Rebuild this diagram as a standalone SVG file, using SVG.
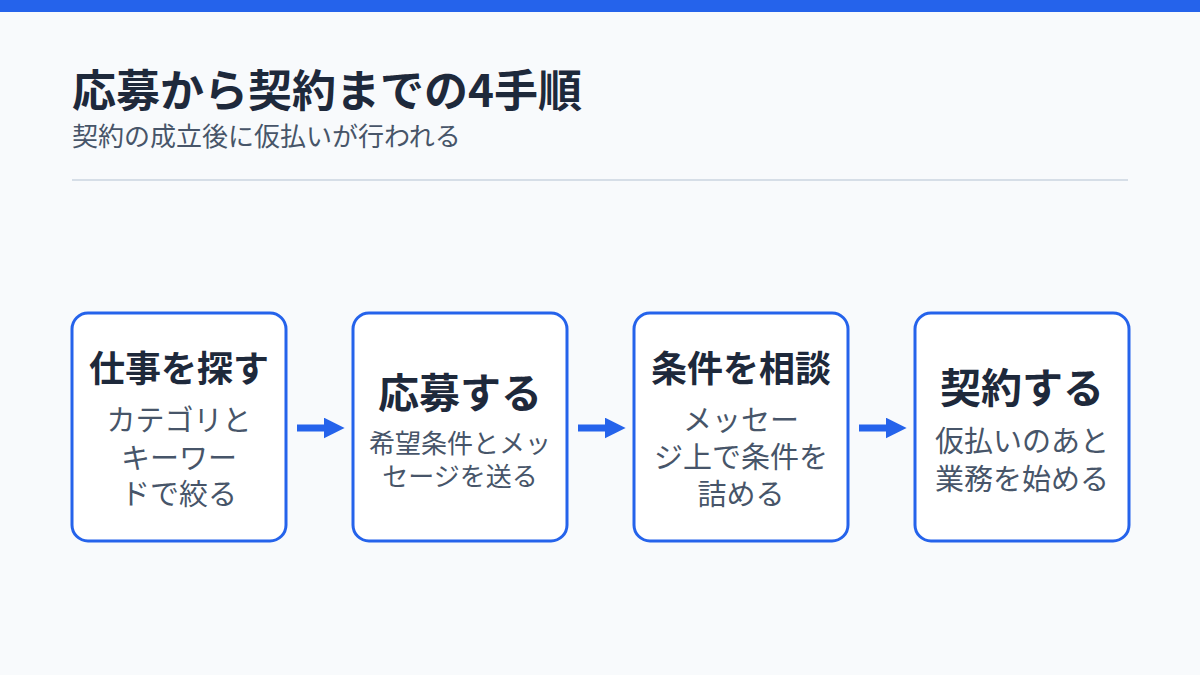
<svg xmlns="http://www.w3.org/2000/svg" width="1200" height="675" viewBox="0 0 1200 675">
<style>
text{font-family:"Noto Sans CJK JP","Noto Sans",sans-serif}
.box{fill:#fff;stroke:#2563eb;stroke-width:3}
.t{font-weight:700;fill:#1e293b;text-anchor:middle}
.b{fill:#475569;text-anchor:middle}
.arr{stroke:#2563eb;stroke-width:7;fill:none;marker-end:url(#ah)}
</style>
<defs><marker id="ah" viewBox="0 0 10 10" refX="4" refY="5" markerWidth="3" markerHeight="3" orient="auto" markerUnits="strokeWidth"><path d="M0,0L10,5L0,10z" fill="#2563eb"/></marker></defs>
<rect width="1200" height="675" fill="#f8fafc"/>
<rect width="1200" height="12" fill="#2563eb"/>
<text x="72" y="107" font-size="44" font-weight="700" fill="#1e293b">応募から契約までの4手順</text>
<text x="72" y="146" font-size="26" fill="#475569">契約の成立後に仮払いが行われる</text>
<line x1="72" y1="180" x2="1128" y2="180" stroke="#cbd5e1" stroke-width="1.5"/>
<g id="connectors">
<line class="arr" x1="297" y1="428" x2="332" y2="428"/>
<line class="arr" x1="578" y1="428" x2="613" y2="428"/>
<line class="arr" x1="859" y1="428" x2="894" y2="428"/>
</g>
<g id="n1"><rect class="box" x="72" y="313" width="214" height="228" rx="16"/>
<text class="t" x="179" y="382" font-size="36">仕事を探す</text>
<text class="b" x="179" y="431" font-size="29">カテゴリと</text>
<text class="b" x="179" y="469" font-size="29">キーワー</text>
<text class="b" x="179" y="505" font-size="29">ドで絞る</text></g>
<g id="n2"><rect class="box" x="353" y="313" width="214" height="228" rx="16"/>
<text class="t" x="460" y="408" font-size="41">応募する</text>
<text class="b" x="460" y="453" font-size="26">希望条件とメッ</text>
<text class="b" x="460" y="486" font-size="26">セージを送る</text></g>
<g id="n3"><rect class="box" x="634" y="313" width="214" height="228" rx="16"/>
<text class="t" x="741" y="382" font-size="36">条件を相談</text>
<text class="b" x="741" y="431" font-size="29">メッセー</text>
<text class="b" x="741" y="468" font-size="29">ジ上で条件を</text>
<text class="b" x="741" y="505" font-size="29">詰める</text></g>
<g id="n4"><rect class="box" x="915" y="313" width="214" height="228" rx="16"/>
<text class="t" x="1022" y="403" font-size="41">契約する</text>
<text class="b" x="1022" y="452" font-size="29">仮払いのあと</text>
<text class="b" x="1022" y="490" font-size="29">業務を始める</text></g>
</svg>
